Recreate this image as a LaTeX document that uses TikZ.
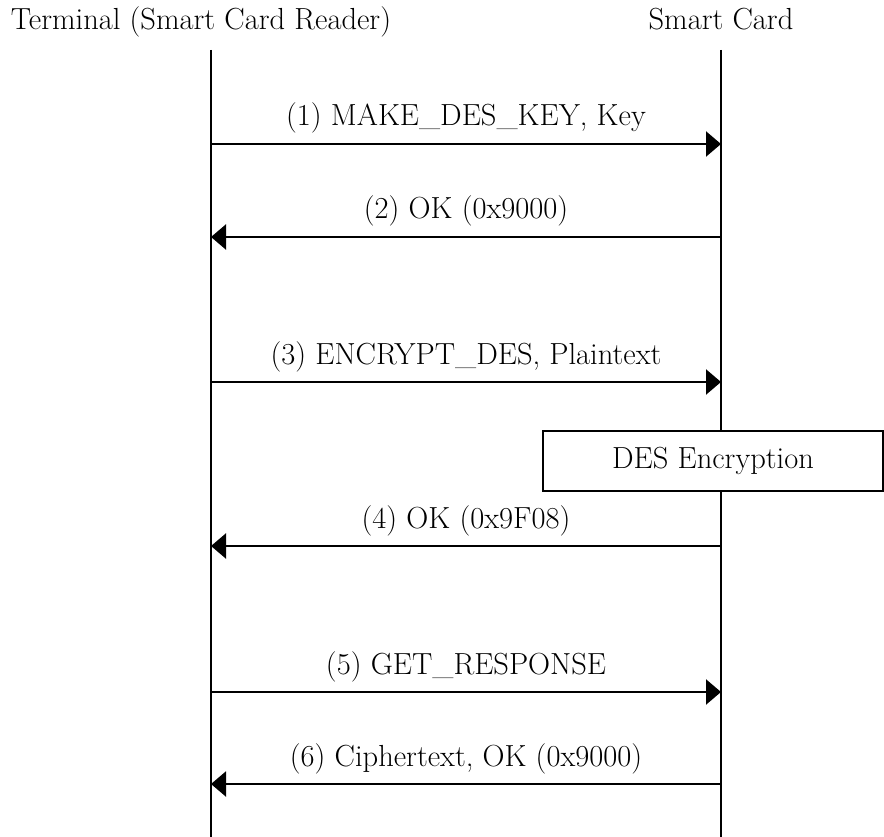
\documentclass[tikz,border=0pt]{standalone}
\usepackage{fontspec}
\usetikzlibrary{arrows.meta}
\begin{document}
\begin{tikzpicture}[x=1pt,y=-1pt,
  lbl/.style={font=\fontsize{30.5}{36}\selectfont, inner sep=0pt, anchor=base},
  life/.style={line width=1.8pt},
  msg/.style={line width=2.2pt, -{Triangle[length=15pt,width=25pt]}},
  procbox/.style={draw, line width=1.5pt, fill=white, minimum width=340pt, minimum height=60pt, inner sep=0pt, font=\fontsize{30.5}{36}\selectfont}]
\useasboundingbox (0,0) rectangle (884,837);
% headers
\node[lbl] (hT) at (201,30) {Terminal (Smart Card Reader)};
\node[lbl] (hC) at (721,30) {Smart Card};
% lifelines
\coordinate (Ttop) at (211,50);
\coordinate (Tbot) at (211,837);
\coordinate (Ctop) at (721,50);
\coordinate (Cbot) at (721,837);
\draw[life] (Ttop) -- (Tbot);
\draw[life] (Ctop) -- (Cbot);
% message endpoints
\foreach \n/\y in {1/144,2/237,3/382,4/546,5/692,6/784}{
  \coordinate (L\n) at (211,\y);
  \coordinate (R\n) at (721,\y);
}
\draw[msg] (L1) -- (R1);
\draw[msg] (R2) -- (L2);
\draw[msg] (L3) -- (R3);
\draw[msg] (R4) -- (L4);
\draw[msg] (L5) -- (R5);
\draw[msg] (R6) -- (L6);
% labels
\node[lbl] (m1) at (466,126) {(1) MAKE\_DES\_KEY, Key};
\node[lbl] (m2) at (466,219) {(2) OK (0x9000)};
\node[lbl] (m3) at (466,364) {(3) ENCRYPT\_DES, Plaintext};
\node[lbl] (m4) at (466,528) {(4) OK (0x9F08)};
\node[lbl] (m5) at (466,674) {(5) GET\_RESPONSE};
\node[lbl] (m6) at (466,766) {(6) Ciphertext, OK (0x9000)};
% process box
\node[procbox] (des) at (713,461) {DES Encryption};
\end{tikzpicture}
\end{document}
